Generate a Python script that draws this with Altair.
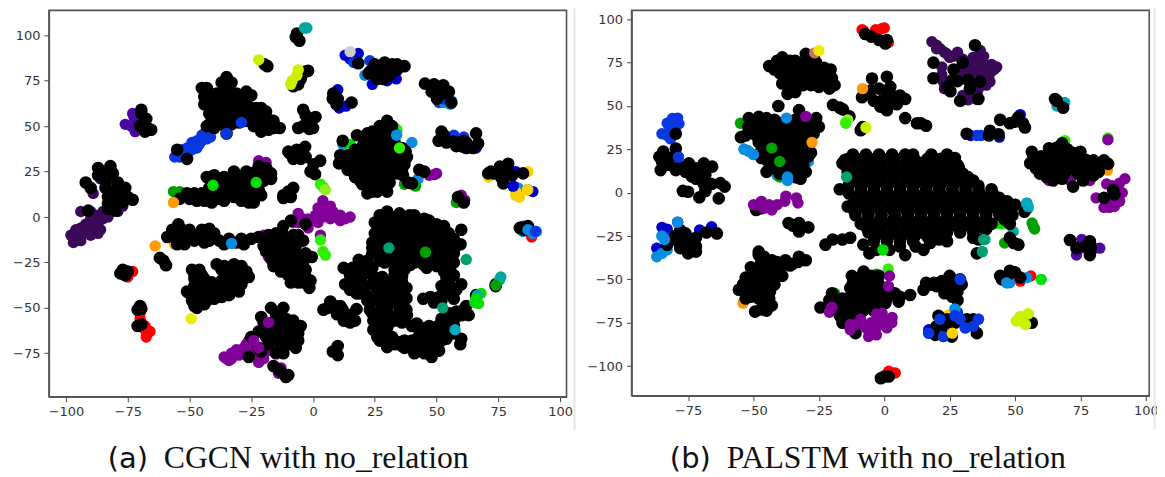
import altair as alt
import pandas as pd

SERIES = ["black","darkpurple","purple","indigo","blue","navy","sky","cyan","teal","seagreen","green","lime","brightgreen","yellowgreen","chartreuse","yellow","gold","orange","red","salmon","gray"]
COLORS = ["#000000","#3a0a58","#800098","#4a0aa0","#0a38e0","#0000c8","#0a8ce0","#00a8c0","#00a8a0","#00a070","#00a000","#00e000","#30f000","#90f020","#ccf000","#eeee00","#ffd000","#ff9a00","#ff0000","#c87070","#cccccc"]

a_under = [
("darkpurple",-97,-14),("darkpurple",-95,-11),("darkpurple",-98,-10),("darkpurple",-93,-9),("darkpurple",-96,-7),("darkpurple",-91,-7),("darkpurple",-89,-5),("darkpurple",-92,-4),("darkpurple",-86,-7),("darkpurple",-87,-3),("darkpurple",-85,-1),("darkpurple",-88,1),("darkpurple",-94,3),("darkpurple",-90,3),("darkpurple",-85,3),("darkpurple",-82,3),("darkpurple",-79,3),("darkpurple",-77,6),("darkpurple",-86,21),("darkpurple",-80,18.6),("darkpurple",-89,13),("darkpurple",-82,12),("darkpurple",-76,10),("darkpurple",-94,-6),("darkpurple",-90,-1),("darkpurple",-83,0),("darkpurple",-87,-9),("darkpurple",-94,-13),("darkpurple",-90,-10),
("red",-73,-30),("red",-75,-33),("red",-68,-62),("red",-67,-64),("red",-67.5,-66),("red",-66,-63),("red",-70,-56),("red",-69.5,-59),("red",-68,-60),("red",-70,-53),
("indigo",-76,51),("indigo",-73,57),("indigo",-72,53),("indigo",-72,47),("indigo",-73.5,50),("indigo",-71,50),("indigo",-72.5,55),
("blue",-56,33),("blue",-54,33),("blue",-51,34),("blue",-53,37),("blue",-51,38),("blue",-49,37),("blue",-47,38),("blue",-49,41),("blue",-47,42),("blue",-45,42),("blue",-44,46),("blue",-42,47),("blue",-41.5,44),("blue",-35,47),("blue",-28,53),("blue",-30,56),("blue",-52,35),("blue",-46,40),("blue",-43,43),("blue",-45,45),
("green",-56.5,14),("green",-54,14),("lime",-40.5,18.5),("lime",-39,19),("lime",-23,19),("lime",-28,24),
("purple",-19,30),("purple",-22,31),
("purple",4,9),("purple",7,6),("purple",2,5),("purple",5,3),("purple",8,3),("purple",1,1),("purple",4,0),("purple",11,1),("purple",15,0),("purple",11,-2),("purple",13,-1),("purple",7,-1),("purple",-4,-1),("purple",-8,-3),("purple",-1,-2),("purple",2,-3),("purple",-2,-6),("purple",-6,2),("purple",-6,-3),("purple",3,-10),("purple",5,6),("purple",2,2),("purple",9,0),("purple",-2,-1),
("sky",12,40),("lime",15,40),("brightgreen",34,48),("sky",33.8,45.6),("sky",40,41),("sky",42.5,21),("lime",34,24),("green",37,18),("green",41.5,17),("lime",24,27),
("sky",50,65),("blue",51,63),("sky",53,63),("sky",55.5,62),("sky",56,64),("sky",52,69),("blue",53,65),("red",48.9,71),
("blue",57,45),("blue",61,44),("navy",66,38),
("navy",13,89),("navy",18.3,90),("navy",15,87),("blue",16.5,85),("blue",23,86),("gray",15,91),("sky",21,78),("navy",24,73),("navy",33.7,76),("navy",30,75),("navy",34,84),("navy",29,82),
("navy",13.3,61),("navy",10.6,60),("navy",10,70),
("gold",71,22),("gold",87,25),("navy",78.5,24),("navy",82,25),
("navy",89,14),("sky",83,16),("gold",83.5,11),("gold",82,14),("navy",81,17),("gold",86.8,15),
("purple",61.4,9.3),("purple",60,12),("green",58,8),
("sky",90.4,-8),("sky",88,-7),("blue",85,-5),("sky",85,-8),("red",88.5,-11),
("purple",49,23.3),("purple",47,23),("purple",50,24),
("orange",-56,-15),("sky",-33,-14),("lime",60,-37),("lime",52,-46),("lime",60,-54),("cyan",57.5,-64),("cyan",59.6,-70),
("purple",-34,-79),("purple",-36,-77),("purple",-33,-75),("purple",-31,-73),("purple",-28,-72),("purple",-30,-76),("purple",-26,-68),("purple",-25,-73),("purple",-23,-74),("purple",-20,-78),("purple",-17,-71),("purple",-16,-72),("purple",-14,-61),("purple",-18,-60),("purple",-15,-56),("purple",-13,-83),("purple",-14,-86),("purple",-22,-80),("purple",-33,-78),
("purple",-32,-76),("purple",-29,-74),("purple",-35,-78),("purple",-27,-70),("purple",-24,-70),("purple",-22,-76),("purple",-19,-74),
("purple",-14,-25),("purple",-20,-10),("purple",-18,-22),
]
a_black = [
(-87,27),(-82,28),(-85,24),(-81,24),(-92,19),(-90,16),(-84,20),(-84,16),(-80,14),(-76,16),(-83,11),(-79,10),(-75,11),(-73,9.5),(-77,8),(-83,7.5),(-80,7),(-91,3.5),(-83,4.5),(-80,3.5),(-87,23),(-79,19),(-77,13),(-82,8),
(-77,-29),(-78,-31),(-76,-32),(-75,-30),(-70,-49),(-71,-51),(-69.5,-50.5),(-71,-60),(-69.5,-59),
(-49,-29),(-46,-29),(-39,-26),(-37,-29),(-32,-26),(-29,-27),(-27,-30),(-26,-33),(-30,-32),(-35,-32),(-33,-35),(-37,-35),(-45,-32),(-48,-34),(-48,-38),(-44,-37),(-41,-36),(-50,-42),(-47,-41),(-44,-41),(-41,-41),(-38,-40),(-35,-39),(-32,-38),(-29,-37),(-34,-43),(-37,-44),(-40,-45),(-43,-46),(-46,-47),(-49,-46),(-47,-50),(-51,-41),(-30,-41),
(-48,-32),(-47,-36),(-44,-34),(-41,-38),(-38,-37),(-35,-36),(-31,-35),(-28,-34),(-43,-44),(-46,-44),(-49,-43),(-40,-43),(-37,-41),(-34,-40),(-48,-49),(-44,-48),(-32,-28),(-36,-27),
(-62,-22.5),(-60.5,-24),(-59.5,-26.5),
(-54.5,-4),(-57,-7),(-53,-7),(-59,-11),(-55,-11),(-52,-10),(-55,-15),(-52,-15),(-48,-13),(-45,-7),(-42,-6.5),(-47,-10),(-43,-10),(-40,-9),(-44,-14),(-38,-13),(-36,-15),(-31,-14),(-28,-15),(-25,-12),(-22,-11),(-50,-12),(-56,-9),(-50,-7),(-42,-13),(-34,-12),(-29,-12),(-54,-13),
(-18,-10),(-15,-9),(-12,-10),(-8,-10),(-18,-14),(-14,-13),(-10,-14),(-6,-14),(-19,-19),(-15,-18),(-11,-18),(-7,-19),(-17,-23),(-13,-22),(-9,-23),(-5,-23),(-16,-27),(-12,-27),(-8,-27),(-4,-25),(-10,-32),(-5,-30),(-3,-33),(-6,-36),(-9,-36),(-1.5,-39),(-1,-35),(-0.5,-22),(-9,-2),(-3,-3.9),(-12,-5),
(-16,-11),(-12,-14),(-8,-17),(-16,-21),(-11,-25),(-7,-25),(-14,-25),(-7,-32),(-4,-36),(-3,-29),(-3,-20),(-6,-10),(-4,-13),(-20,-16),(-9,-20),(-13,-16),(-10,-29),(-13,-30),
(-12,12),(-10,14),(-8,16),(-12,10.5),(-9,11),
(-54,10),(-50,10),(-51,13),(-48,13),(-45,13),(-44,9),(-41,11),(-42,16),(-43,22),(-39,14),(-36,22),(-32,25),(-29,22),(-35,17),(-32,16),(-28,18),(-25,16),(-32,11),(-29,12),(-25,11),(-24,8),(-26,20),(-22,28),(-19,27),(-17,24),(-23,25),(-20,20),(-22,15),(-17,21),(-36,12),
(-47,9),(-50,12),(-41,8),(-38,10),(-36,9),(-34,13),(-30,15),(-40,17),(-38,19),(-35,21),(-33,21),(-30,19),(-27,14),(-29,9),(-26,8),(-21,12),(-24,20),(-25,24),(-20,24),(-27,25),(-43,12),(-40,23),
(-55,37),(-51,32),
(-35,77),(-37,74),(-33,74),(-45,71),(-42,68),(-39,68),(-36,66),(-33,66),(-27,69),(-25,67),(-44,62),(-40,63),(-36,61),(-32,60),(-28,60),(-42,57),(-38,56),(-34,55),(-30,52),(-25,60),(-21,60),(-19,58),(-23,55),(-20,53),(-17,53),(-24,50),(-21,47),(-16,49),(-13.5,49),(-18,48),(-40,49),(-43,50),(-37,51),(-33,51),(-35,46),
(-40,66),(-38,65),(-34,63),(-30,64),(-38,60),(-40,59),(-34,58),(-30,57),(-26,56),(-27,53),(-22,57),(-19,50),(-16,53),(-41,54),(-37,53),(-44,66),(-43,71),(-34,70),(-36,72),(-31,68),(-27,63),(-23,60),
(-69.5,59),(-69.5,57),(-67.5,54),(-70,50),(-68,47),(-65.5,48),(-67,49),
(-19.6,84),(-18.5,83),(-7,99),(-6.5,101),(-5.5,97),(-3,80),(-2,80.5),(-5,76),(-6,73),(-8,72),
(18.3,84.6),(29,85),(22.5,79),(31.5,81),(37,83),(28.5,76),(25,82),(34,81),(27,81),(25,84),(23,80),(27,79),(31,78),(34,84),(32,84),(26,76),
(8.2,68),(9.5,62),(8,65),(10,65),(15.6,63),
(-4,59),(-3,56),(-1.5,54),(1,55),(-4,50),(-1.5,48.5),(-6,49),(0,49),(-2,52),
(-6.6,37),(-3.2,38.6),(-9.3,35),(-5,32),(2.9,31),(0.2,29),(0.8,23.6),(-8,32),(-10,36),(-3,33),(-1,25),
(30,53),(27,50),(32,50),(24,47),(27,45),(17.8,45),(24,42),(28,42),(22,40),(25,39),(29,39),(32,35),(36,38),(37.5,36),(37,29),(36.4,23),(33,41),(11,34),(10.5,29.5),(14,31),(14,26),(17,37),(17,33),(18,28),(17,22),(21,36),(21,32),(21,27),(21,22),(20,18),(24,34),(25,29),(25,24),(24,19),(24,14),(28,36),(28,31),(28,26),(28,21),(27,16),(31,24),(31,19),(30,14),(34,33),(33,28),(12,42),
(29,47),(31,47),(24,44),(21,43),(26,36),(23,31),(23,26),(23,21),(26,21),(26,26),(26,31),(30,34),(30,29),(30,21),(19,30),(19,25),(19,20),(16,25),(15,29),(12,31),(23,16),(26,14),(22,13),(33,30),(35,36),(34,37),(32,46),(28,48),(31,43),(19,37),(19,34),(23,39),(26,42),(22,46),(34,24),(36,26),(14,34),(31,27),(20,39),(36,33),(38,33),
(40,18.5),(38.5,19),(45,25),(43,26),
(52,47),(50.8,42),(53,45),(56.8,41.5),(60.8,38.7),(66,46),(64.7,38),(66.8,40.5),(58,39),(62,41),(54,41),(59,41),(62,38),(61,42),
(45.3,73.4),(52.7,72.5),(50.7,67),(50.2,65),(49,73),(53,68),(56,63),(48,69),(55,69),(51,70),
(70.9,24),(79,29.3),(77,18.5),(75.6,27.7),(73,24),(85,24),(80.6,23),(76,22),(72,25),(75,25),(77,23),
(58.7,11),(61,8),(87,-5),(83.7,-6),(85.5,-7),
(30,3),(27,1),(33,0),(25,-3),(29,-2),(33,-4),(37,-2),(41,1),(39,-4),(44,-3),(47,-2),(50,-4),(53,-5),(43,-7),(47,-7),(51,-8),(55,-9),(60,-7),(25,-9),(29,-8),(33,-9),(37,-9),(41,-11),(45,-11),(24,-14),(36,-6),
(31,-1),(35,-1),(38,-1),(42,-1),(45,-1),(27,-6),(31,-6),(35,-6),(39,-6),(41,-6),(45,-6),(49,-6),(53,-6),(27,-12),(31,-12),(35,-12),(37,-12),(43,-12),(47,-12),(51,-12),(53,-12),(57,-12),(26,-16),(28,-16),(33,-16),(37,-16),(43,-16),(48,-16),(54,-16),(58,-16),(24,-20),(28,-20),(33,-20),(37,-20),(41,-20),(44,-20),(48,-20),(52,-20),(56,-20),(29,-25),(33,-25),(36,-25),(41,-25),(47,-25),(52,-25),(57,-25),
(55.5,-11.7),(59.7,-15),(27,-22.7),(36.4,-17),(39.3,-26.4),(44.6,-26),(50,-22.7),(55.5,-22.7),(54,-28),(54,-33.6),(55.5,-41),(47.5,-44),(44.6,-45),(52,-46),(30,-20),(46,-16),(52,-16),(33,-14),(40,-19),
(12.4,-28),(18.5,-23.6),(17.6,-30),(13,-37),(19.6,-33.6),(21,-42),(17.6,-42),(27,-37),(32,-35.5),(37.8,-39),(37.8,-44.7),(31,-47.5),(34,-44),(37.8,-51),(23,-51),(7,-46.5),(4.2,-51),(12.4,-57),(17,-57),(17.6,-50.7),(9.7,-53.5),(14,-54),(24.4,-57),(24.4,-62),(31,-55.6),(36.4,-53.8),(30,-61),(27,-24),(24,-28),(28,-33),(33,-29),(36,-33),(24,-45),(33,-41),(27,-52),(28,-64),
(33,-24),(37,-29),(33,-32),(36,-36),(30,-38),(26,-41),(24,-37),(29,-44),(33,-47),(35,-50),(28,-48),(24,-53),(33,-57),(28,-58),(36,-58),(21,-38),(15,-40),(19,-38),(15,-32),(14,-29),(21,-30),(24,-32),(9,-49),(12,-51),(15,-54),(7,-49),(12,-53),
(16,-28),(20,-26),(22,-24),(16,-36),(19,-42),(22,-46),(26,-46),(36,-41),(30,-52),(34,-54),(31,-58),(26,-63),(38,-54),(27,-58),(6,-50),(15,-58),(11,-49),(30,-66),(36,-71),(40,-72),(47,-75),(44,-70),(53,-64),(56,-56),(54,-37),(54,-42),(44,-23),(46,-28),(57,-20),(40,-23),(36,-22),(30,-16),(24,-17),(26,-11),(27,-4),(35,2),(39,1),(42,-4),(48,-10),(52,-10),(42,-14),(39,-15),(49,-15),
(42,-58.6),(44.6,-61.3),(49,-65),(50.6,-60),(55.5,-58.6),(54,-67),(59.6,-70),(27,-68),(30,-71.6),(35,-69),(39,-71.6),(43,-73.5),(49,-73.5),(51,-73.5),(8,-74),(10,-71),(10,-76),(60.4,-54),(63,-54),(61,-51),(47,-60),(47,-68),(55,-63),(37,-72),
(40,-60),(43,-65),(46,-63),(50,-62),(53,-60),(52,-56),(57,-60),(57,-64),(60,-67),(46,-71),(40,-68),(32,-66),(29,-66),(33,-70),(26,-66),(37,-68),(45,-75),(48,-77),(41,-75),(52,-68),(50,-70),(46,-66),(58,-55),(55,-53),(58,-52),
(52,-38),(55,-36),(51,-44),(49,-47),(57,-45),(53,-30),(56,-26),(57,-32),(50,-27),(46,-21),(56,-19),
(60,-37),(58,-40),(73.9,-38),(74,-37),(66,-43),(-14,-62),(-21,-55),(-17,-50),(-15,-54),(-12,-50),(-11,-56),(-9,-60),(-13,-58),(-22,-63),(-19,-66),(-15,-66),(-11,-63),(-8,-66),(-13,-70),(-9,-70),(-18,-70),(-25,-66),(-22,-72),(-26,-77),(-21,-74),(-5,-60),(-7,-72),(-16,-82),(-13,-85),(-11,-88),(-14,-84),(-10,-87),(-8,-57),
(-18,-62),(-20,-58),(-16,-58),(-12,-66),(-15,-75),(-8,-62),(-6,-68),(-6,-64),(-12,-75),(-12,-59),
(56,-15),(62,-49),
]
a_over = [
("chartreuse",-22,86.5),("teal",-3.5,104),("teal",-2.5,104),("chartreuse",-6,81),("chartreuse",-6.5,78),("chartreuse",-8.5,75),("chartreuse",-9,73),
("yellow",-49.3,-56),("orange",-63.9,-15.9),("orange",-56.5,8),("sky",-33,-14.5),
("lime",-40.5,17.5),("lime",-23,19),("blue",-29,52),("blue",-35,46),
("brightgreen",3,-12.6),("brightgreen",4,-19),("brightgreen",5,-21),("brightgreen",3,18),("brightgreen",4.2,16.4),("yellowgreen",5,15),
("sky",33.8,45),("brightgreen",35,38),("sky",87,15),("gold",86.8,15),("gold",83.5,11),("gold",82,12),("navy",81,17),("sky",87,-7),("sky",89,-9),("blue",90,-8),
("seagreen",30.7,-17),("green",45.5,-19.4),("seagreen",62,-23.4),("seagreen",52.5,-50),("teal",75.5,-34.6),("teal",76,-33),("green",74,-37.5),("lime",67,-47.6),("lime",65.5,-47),("lime",68,-42),("teal",66.5,-43),("lime",66,-45),("cyan",57.5,-62),
("purple",-24,-68),("purple",-22,-72),("purple",-18,-58),
]

b_under = [
("red",-8.5,94),("red",-8,93.5),("red",-3.3,94),("red",-1,94.5),("red",0,95),("red",1.6,86.6),
("blue",-81,42.8),("blue",-83,40),("blue",-79,43),("blue",-78.5,39.7),("blue",-85,34),("blue",-83,33),("blue",-81.7,31),("blue",-80,37),("blue",-82,37),("blue",-78.7,20.5),
("sky",-85,-25),("navy",-85,-20),("navy",-83,-21),("navy",-79,-17),("navy",-66,-19.6),("navy",-70.6,-21.5),("navy",-87,-32),("sky",-87,-37),("sky",-85,-35),("sky",-83,-33),("navy",-75,-30),("blue",-81,-25),
("darkpurple",18.2,87),("darkpurple",21.4,83),("darkpurple",23,81),("darkpurple",26,78.6),("darkpurple",28.4,78.6),("darkpurple",36,76.6),("darkpurple",36.7,82),("darkpurple",43,72.5),("darkpurple",41,74),("darkpurple",39,70.5),("darkpurple",32.7,74.5),("darkpurple",40.4,64),("darkpurple",35.4,57.3),("darkpurple",32,53.5),("darkpurple",22,72.5),("darkpurple",22.6,64),("darkpurple",38,78.6),("darkpurple",34,70),("darkpurple",37,66),
("darkpurple",30,74),("darkpurple",35,74),("darkpurple",38,73),("darkpurple",41,70),("darkpurple",36,70),("darkpurple",33,70),("darkpurple",38,67),("darkpurple",39,62),("darkpurple",36,60),("darkpurple",33,56),("darkpurple",24,80),("darkpurple",30,77),("darkpurple",20,85),("darkpurple",34,78),
("darkpurple",40,67),("darkpurple",42,71),("darkpurple",37,74),("darkpurple",34,74),("darkpurple",31,72),("darkpurple",28,81),("darkpurple",20,83),("darkpurple",25,78),("darkpurple",30,69),("darkpurple",35,66),("darkpurple",34,62),("darkpurple",35,54),("darkpurple",30,56),("darkpurple",22,68),("darkpurple",23,60),
("teal",68.4,51),("teal",66,50),("cyan",69,52),("navy",52,45),("navy",33,33),("blue",35.4,33),("blue",37,33),("navy",44,32),
("brightgreen",69,30),("brightgreen",85.5,31.5),("purple",85.5,30.5),("orange",85.3,13),("lime",60,-50),
("purple",71.6,9.8),("purple",71,7),("purple",78.6,7),("purple",63,7),("purple",92,8),("purple",90,5.5),("purple",91,0),("purple",90,-5),("purple",86,-8.5),("purple",84,-8.5),("purple",81,-3),("purple",85,5),("purple",89,0),("purple",88,-8),("purple",87,4),("purple",87,-4),
("indigo",75.5,-27),("indigo",73.5,-36),("indigo",82.4,-32),("indigo",80.5,-32),("indigo",75,-32),
("green",-55,40),("sky",-53.6,25),("sky",-50,22),("sky",-52,24),("sky",-37.4,9.7),("sky",-41,10),("green",-40,9),("sky",-29,18),
("teal",54.5,-6),("teal",55,-9),("cyan",54,-8),("lime",43,-17.7),("lime",45,-18),("green",57,-19.5),("green",56.5,-17.5),("green",57.5,-21),("teal",49.3,-22.4),("teal",38.5,-27),("seagreen",37.3,-34),("green",46,-29),("lime",-1,-33),("yellow",2,-30),
("sky",46.8,-52),("sky",48,-52),("red",56,-48),("red",52,-51),("sky",54.5,-49),
("green",-19,-58),("orange",-54,-63.7),("green",-47,-68),("green",-3,-47),
("brightgreen",1.5,-44),
("red",1.7,-103),("red",4.2,-104),("red",3,-104),
("chartreuse",52,-71.5),("chartreuse",54,-76),("chartreuse",51.4,-73),("chartreuse",55,-70),
("navy",17,-81),("blue",21.3,-73),("navy",22.6,-83),("blue",29,-73),("blue",27,-71),("blue",31,-78),("blue",36,-73),("blue",34,-77),("gold",24.5,-70.5),("blue",28,-69),("navy",17,-79),
]
b_black = [
(-86,20.7),(-84.5,23.7),(-79.7,25.5),(-85.5,13),(-78,15),(-74.7,16.9),(-69,16.9),(-65.8,15),(-73.5,9.3),(-68.4,10.3),(-77,1),(-75,0.5),(-70.7,-2.7),(-68.4,1),(-63.3,-3.3),(-61,3.5),(-62.7,5.5),(-79.7,13),(-66,5),(-82,16),(-76,12),(-71,12),(-69,5),(-85,18),(-79.7,34),(-84,16),(-72,14),(-75,12),(-70,13),(-72,8),(-82,20),
(-83,-30),(-75,-35),(-72,-31),(-78,-29),(-74,-28),(-78,-21.6),(-64,-23.5),(-76,-23.5),(-72,-26),(-80,-25),(-75,-31),(-68,-23),(-80,-27),(-75,-26),(-78,-32),(-74,-33),(-72,-34),
(-44,73),(-41,73),(-39,78),(-36,76),(-40,69),(-36,70),(-33,73),(-31,75),(-30,80),(-27,78),(-26,75),(-29,75),(-39,63),(-36,65),(-33,66),(-30,66),(-28,62),(-27,70),(-23,72),(-20.5,71),(-24,67),(-20,66),(-23,63),(-19,62),(-21,60),(-26,64),(-36,60),(-34,58),(-37,57),(-30,70),
(-42,71),(-38,71),(-34,70),(-38,74),(-32,69),(-33,63),(-31,62),(-37,62),(-25,70),(-22,68),(-25,61),(-34,76),(-41,76),(-38,66),(-26,67),
(-19.6,50.6),(-15.8,48),(-13.3,44),(-17,49),(-8.3,37.8),(-9,36),
(-4.7,65.8),(1,66.8),(2.3,61),(8,54),(-1.5,49.6),(1,47.5),(-6.6,57),(-4,53),(4.8,51),(1,56),(-2,60),(-5,59),(-8.5,55),(-1,53),(3,56),(6,56),(1,52),
(8,43),(12.5,40),(16,38.6),(14,40),
(-7.3,91.5),(-5,90),(-2,88),(0.4,86),(1,88),
(34.7,85),(18.8,75),(18.8,66),(26.5,71),(30,75),(28,64.3),(25.3,58.5),(29,53),(36,54),(32.7,60),(36.7,64),(32,65),(26,65),(24,61),
(65.3,54),(68.4,49),(66,53),
(44.3,42),(48,40),(53,40),(53.8,37.6),(51.3,43.5),(50,41),
(31.5,34),(40.4,35.7),(43.7,33.7),(40,33),
(56.4,23.6),(55.8,17),(63,25.6),(68,28.5),(75,23.6),(59.5,11),(64.6,7),(68.4,17),(73.5,17),(72.2,3.5),(80,18.6),(84,18.6),(85.6,16.6),(78,11),(67,22),(69,11),(60,17),(64,17),(64,12),(72,23),(68,8),(76,7),(82,12),(74,11),(58,14),
(57,21),(60,21),(64,21),(61,14),(66,14),(71,14),(75,14),(70,20),(66,26),(70,25),(62,9),(66,10),(77,19),(82,15),(80,14),(83,17),(80,10),(77,14),(62,18),(67,18),(72,19),
(84,-3),(87.5,1.5),(88,-1),
(-40.5,50),(-51.8,43),(-48,43.7),(-54.8,32),(-45,43),(-32.6,47.6),(-26,43),(-25,38),(-28,23),(-33.7,8.8),
(-52,38),(-48,38),(-44,39),(-40,40),(-36,38),(-32,40),(-28,37),(-53,33),(-49,33),(-45,34),(-41,34),(-37,33),(-33,34),(-29,32),(-46,29),(-42,29),(-38,29),(-34,29),(-30,27),(-47,24),(-39,24),(-35,24),(-31,23),(-45,19),(-37,19),(-33,19),(-42,14),(-38,14),(-34,14),(-45,12),(-32,8),(-36,12),(-41,22),
(-50,41),(-46,41),(-42,42),(-38,41),(-34,42),(-30,41),(-50,35),(-47,36),(-43,36),(-39,36),(-35,36),(-31,36),(-27,34),(-48,29),(-44,31),(-40,31),(-36,31),(-32,31),(-44,26),(-40,26),(-36,26),(-32,26),(-29,26),(-43,22),(-37,21),(-33,21),(-29,21),(-47,20),(-41,17),(-35,16),(-31,16),(-40,11),(-37,17),(-34,11),(-30,12),(-44,14),
(-49,-10),(-47,-9),
(-36.6,-17.5),(-32.6,-17.5),(-29,-20),(-32.6,-22.4),(-35,-19),
(-15,16),(-15,19),
(-12,22),(-7,22),(-2,22),(3,22),(8,22),(11,22),(18,22),(24,22),(27,20),
(-13.5,19.5),(-8.5,19.5),(-3.5,19.5),(1.5,19.5),(6.5,19.5),(11.5,19.5),(16.5,19.5),(21.5,19.5),(26,19.5),
(-16,17),(-11,17),(-6,17),(-1,17),(4,17),(9,17),(14,17),(19,17),(24,17),(28,16),
(-11.5,14.5),(-6.5,14.5),(-1.5,14.5),(3.5,14.5),(8.5,14.5),(13.5,14.5),(18.5,14.5),(23.5,14.5),(28.5,14.5),
(-14,12),(-9,12),(-4,12),(1,12),(6,12),(11,12),(16,12),(21,12),(26,12),(30,11),
(-11.5,9.5),(-6.5,9.5),(-1.5,9.5),(3.5,9.5),(8.5,9.5),(13.5,9.5),(18.5,9.5),(23.5,9.5),(28.5,9.5),(32,9),
(-11,7),(-6,7),(-1,7),(4,7),(9,7),(14,7),(19,7),(24,7),(29,7),(34,7),
(-13.5,4.5),(-8.5,4.5),(-3.5,4.5),(1.5,4.5),(6.5,4.5),(11.5,4.5),(16.5,4.5),(21.5,4.5),(26.5,4.5),(31.5,4.5),(36,4),
(-17,2),(-14,2),(-9,2),(-4,2),(1,2),(6,2),(11,2),(16,2),(21,2),(26,2),(31,2),(36,2),(41,2),
(-13.5,-0.5),(-8.5,-0.5),(-3.5,-0.5),(1.5,-0.5),(6.5,-0.5),(11.5,-0.5),(16.5,-0.5),(21.5,-0.5),(26.5,-0.5),(31.5,-0.5),(36.5,-0.5),(41.5,-0.5),
(-11,-3),(-6,-3),(-1,-3),(4,-3),(9,-3),(14,-3),(19,-3),(24,-3),(29,-3),(34,-3),(39,-3),(44,-3),(47,-5),
(-11.5,-5.5),(-6.5,-5.5),(-1.5,-5.5),(3.5,-5.5),(8.5,-5.5),(13.5,-5.5),(18.5,-5.5),(23.5,-5.5),(28.5,-5.5),(33.5,-5.5),(38.5,-5.5),(43.5,-5.5),
(-14,-8),(-9,-8),(-4,-8),(1,-8),(6,-8),(11,-8),(16,-8),(21,-8),(26,-8),(31,-8),(36,-8),(41,-8),(46,-8),(50,-7),
(-11.5,-10.5),(-6.5,-10.5),(-1.5,-10.5),(3.5,-10.5),(8.5,-10.5),(13.5,-10.5),(18.5,-10.5),(23.5,-10.5),(28.5,-10.5),(33.5,-10.5),(38.5,-10.5),(43.5,-10.5),(48.5,-10.5),
(-11,-13),(-6,-13),(-1,-13),(4,-13),(9,-13),(14,-13),(19,-13),(24,-13),(29,-13),(34,-13),(39,-13),(44,-13),(49,-13),(53.6,-11),
(-6.5,-15.5),(-1.5,-15.5),(3.5,-15.5),(8.5,-15.5),(13.5,-15.5),(18.5,-15.5),(23.5,-15.5),(28.5,-15.5),(33.5,-15.5),(38.5,-15.5),(46,-15.5),
(-9,-18),(-4,-18),(1,-18),(6,-18),(11,-18),(16,-18),(21,-18),(26,-18),(31,-18),(36,-18),(41,-18),(48,-18),
(-6.5,-20.5),(-1.5,-20.5),(3.5,-20.5),(8.5,-20.5),(13.5,-20.5),(18.5,-20.5),(23.5,-20.5),(28.5,-20.5),(33.5,-20.5),(38,-20.5),
(-6,-23),(-1,-23),(4,-23),(9,-23),(14,-23),(19,-23),(24,-23),(29,-23),(34,-23),(39,-21),
(-3.5,-25.5),(1.5,-25.5),(6.5,-25.5),(11.5,-25.5),(16.5,-25.5),(21.5,-25.5),
(-22.5,-30),(-19.7,-27),(-13,-26),(-16,-27),(-8,-30),(-5.7,-35),(-4,-28),(1,-28),(6,-28),(11,-28),(17.6,-29),(24,-28),(21,-27),(36,-27),(35.4,-35),(34,-26),
(-3,-33),(2,-33),(8,-36),(6,-31),(12,-31),(15,-33),(49.5,-29),(51.3,-30),(48,-26),
(16,-52),(19,-52),(25,-48),(29,-50),(23,-58),(28,-57),(29.6,-53),(28,-62),(15,-56),(18,-53),(22,-51),(26,-54),(26,-60),(23,-56),(20,-54),(24,-52),(28,-52),
(20.7,-71),(22.6,-76),(25,-77),(19.5,-82),(24,-81),(31.5,-73),(35.4,-81),(25.8,-83),(20,-77),(27,-75),(24,-73),(25,-80),(34,-73),
(44.3,-48),(48,-45),(52,-49),(45,-50),(50,-46),(47,-48),
(56.4,-75),(53,-73),
(71,-27.3),(73.5,-32),(78.6,-28),(78.6,-36),(77,-31),(79,-32),
(9.9,-59),(5.5,-62.8),(-4,-57),(-7.9,-45.5),(-6.6,-53),(-2,-53),(0.4,-63.7),(-4,-63),(-7.9,-63),(-1.5,-58),(-8,-68),(-13,-60),(-10,-60),(-6,-58),(-15,-65),(-12,-66),(-12,-70),(-9,-66),(-4,-68),
(-24.4,-66.2),(-20,-58),(-21,-62),(-16,-61),(-12.4,-48),(-8.5,-48),(-9.8,-55),(-15,-68),(-16,-75),(-11,-81),(-13,-55),(-17,-71),(-5,-48),(-2,-48),(2,-58),(6,-60),
(-10,-50),(-7,-50),(-12,-52),(-7,-56),(-4,-52),(-1,-63),(-18,-63),(-12,-62),(-9,-57),(-3,-60),(1,-61),(4,-58),(-13,-73),(-10,-69),(-15,-71),(-5,-66),(-2,-67),(-18,-68),
(-48,-34),(-30,-39),(-32.6,-37),(-37.8,-39),(-43,-39),(-51,-43),(-39,-48),(-44,-45.5),(-48,-47),(-53,-49),(-55.6,-56),(-53,-61),(-49.4,-53),(-43.7,-57),(-46,-61),(-43,-65),(-49.4,-68.6),(-48,-36),(-47,-40),(-44,-50),(-41,-44),(-35,-41),(-52,-54),(-48,-57),(-45,-68),(-51,-60),(-47,-43),
(-46,-37),(-41,-40),(-39,-42),(-36,-42),(-33,-40),(-44,-41),(-50,-47),(-46,-47),(-43,-49),(-40,-46),(-50,-50),(-47,-52),(-44,-53),(-54,-53),(-50,-57),(-46,-56),(-53,-57),(-48,-61),(-44,-61),(-42,-53),(-47,-67),
(1.7,-106),(-1.3,-107),(0,-106),
]
b_over = [
("salmon",-26.6,80.6),("yellow",-25,82),("orange",-8.3,60),("yellowgreen",-14.7,41),("yellowgreen",-14,42),("chartreuse",-7,37.6),
("blue",-78.7,20.5),("sky",-79,-17),("sky",-85,-25),("sky",-84,-27),
("sky",-37.4,43),("purple",-30,44),("orange",-27.6,29),("sky",-53.6,25),("sky",-50,22),("sky",-52,24),("sky",-37,9),("sky",-37,7),("green",-43,25.7),("green",-40,18),("seagreen",-14.4,9),
("purple",-50,-7),("purple",-48,-7),("purple",-47,-5),("purple",-46,-9),("purple",-43,-10),("purple",-41,-7),("purple",-44,-7),("purple",-37.6,-2),("purple",-38,-5),("purple",-33.6,-3),("purple",-33,-6),
("brightgreen",-14.7,40),("purple",2,-48),("purple",1.6,-54),
("purple",-21,-69),("purple",-20,-66),("purple",-13,-79),("purple",-9,-73),("purple",-11,-76),("purple",-4.7,-78),("purple",-6,-83),("purple",-2.8,-77),("purple",2.9,-75),("purple",-0.8,-69.5),("purple",-4,-80),("purple",0,-74),("purple",-7,-78),("purple",-2,-73),
("purple",-3,-82),("purple",-5,-75),("purple",-1,-76),("purple",1,-78),("purple",3,-72),("purple",-8,-76),("purple",-3,-70),("purple",-13,-76),
("sky",27,-67),("blue",17,-81),("blue",21.3,-73),("blue",22.6,-83),("blue",29,-73),("blue",27,-71),("blue",31,-78),("blue",36,-73),("blue",34,-77),("gold",26,-81),
("blue",29,-50),("sky",46.8,-52),("seagreen",38,-27),("seagreen",37.5,-34),("lime",-0.5,-33),("chartreuse",52,-71.5),("chartreuse",54,-76),("chartreuse",55,-70),("chartreuse",50.5,-74),
("cyan",54.5,-6),("cyan",55,-8),
]

a_x_ticks = [-100,-75,-50,-25,0,25,50,75,100]
a_y_ticks = [-75,-50,-25,0,25,50,75,100]
b_x_ticks = [-75,-50,-25,0,25,50,75,100]
b_y_ticks = [-100,-75,-50,-25,0,25,50,75,100]
a_tag = ["(a)"]
a_caption = ["CGCN with no_relation"]
b_tag = ["(b)"]
b_caption = ["PALSTM with no_relation"]


def table(under, black, over):
    rows = list(under) + [("black", x, y) for x, y in black] + list(over)
    return pd.DataFrame(rows, columns=["series", "x", "y"])


def panel(df, xdom, ydom, xticks, yticks, w, h, tag, cap, tag_x, cap_x, line_x):
    pts = alt.Chart(df).mark_circle(opacity=1, clip=True).encode(
        x=alt.X("x:Q", title=None, scale=alt.Scale(domain=xdom, nice=False, zero=False),
                axis=alt.Axis(values=xticks, labelFlush=False, labelOverlap=False, labelBound=False)),
        y=alt.Y("y:Q", title=None, scale=alt.Scale(domain=ydom, nice=False, zero=False),
                axis=alt.Axis(values=yticks, labelFlush=False, labelOverlap=False, labelBound=False,
                              minExtent=40, maxExtent=40)),
        color=alt.Color("series:N", legend=None, scale=alt.Scale(domain=SERIES, range=COLORS)),
        size=alt.condition("datum.series === 'black'", alt.value(160), alt.value(130)),
    )
    t1 = alt.Chart(pd.DataFrame({"t": tag})).mark_text(font="DejaVu Sans", fontSize=29, align="left", baseline="alphabetic", color="#111111").encode(
        text="t:N", x=alt.value(tag_x), y=alt.value(458))
    t2 = alt.Chart(pd.DataFrame({"t": cap})).mark_text(font="Liberation Serif", fontSize=31.8, align="left", baseline="alphabetic", color="#111111").encode(
        text="t:N", x=alt.value(cap_x), y=alt.value(458))
    sep = alt.Chart(pd.DataFrame({"t": cap})).mark_rule(color="#e6e6e6", strokeWidth=2).encode(
        x=alt.value(line_x), y=alt.value(-2), y2=alt.value(420))
    return alt.layer(pts, sep, t1, t2).properties(width=w, height=h)


left = panel(table(a_under, a_black, a_over), [-106.9, 102.6], [-98.9, 113.7], a_x_ticks, a_y_ticks,
             518.5, 387, a_tag, a_caption, 59, 115, 526.5)
right = panel(table(b_under, b_black, b_over), [-96.6, 101.3], [-117.1, 105.1], b_x_ticks, b_y_ticks,
              518.5, 386, b_tag, b_caption, 38.3, 95.3, 524)

chart = alt.hconcat(left, right, spacing=8.7).properties(
    padding={"left": 0, "top": -2, "right": -3, "bottom": 0}
).configure_view(
    stroke="#555555", strokeWidth=1.6
).configure_axis(
    grid=False, domainColor="#555555", domainWidth=1.4, tickColor="#444444", tickSize=5, tickWidth=1,
    labelFont="DejaVu Sans", labelFontSize=13, labelColor="#333333", labelPadding=4
)

chart.save("out.html", embed_options={"renderer": "svg", "actions": False})
